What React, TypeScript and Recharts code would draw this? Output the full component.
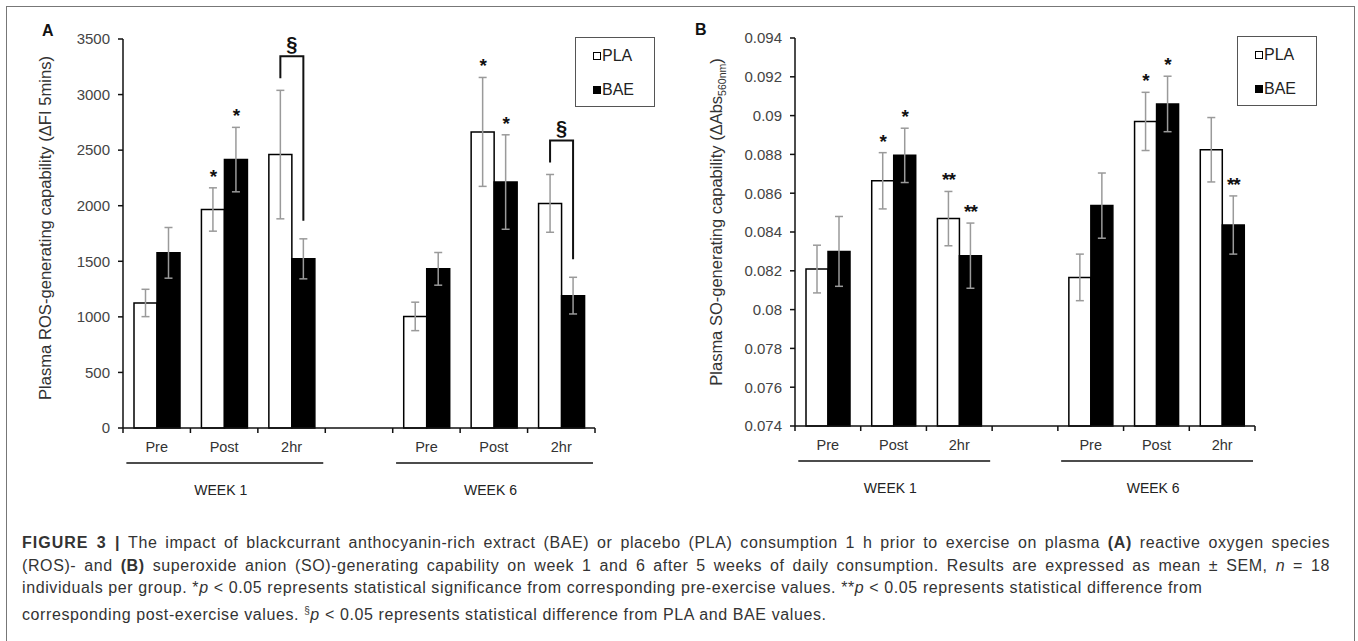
import { BarChart, Bar, XAxis, YAxis, ErrorBar, LabelList, Legend } from 'recharts';

const FONT = '"Liberation Sans", Arial, sans-serif';

// seven slots on the x axis, the fourth one is the gap between weeks
const categories = ['Pre', 'Post', '2hr', '', 'Pre', 'Post', '2hr'];
const weekLabels = ['WEEK 1', 'WEEK 6'];

// panel A - plasma ROS-generating capability
const rosPla = [1125, 1966, 2460, null, 1004, 2664, 2021];
const rosPlaErr = [123, 195, 578, null, 128, 490, 260];
const rosBae = [1576, 2415, 1522, null, 1432, 2213, 1191];
const rosBaeErr = [228, 290, 180, null, 147, 425, 165];
const rosPlaMarks = ['', '*', '', '', '', '*', ''];
const rosBaeMarks = ['', '*', '§', '', '', '*', '§'];
const rosTicks = [0, 500, 1000, 1500, 2000, 2500, 3000, 3500];

// panel B - plasma SO-generating capability
const soPla = [0.08209, 0.08664, 0.08469, null, 0.08166, 0.0897, 0.08824];
const soPlaErr = [0.00123, 0.00145, 0.0014, null, 0.0012, 0.0015, 0.00166];
const soBae = [0.083, 0.08795, 0.08278, null, 0.08536, 0.0906, 0.08436];
const soBaeErr = [0.0018, 0.0014, 0.00168, null, 0.00168, 0.00143, 0.0015];
const soPlaMarks = ['', '*', '**', '', '', '*', ''];
const soBaeMarks = ['', '*', '**', '', '', '*', '**'];
const soTicks = [0.074, 0.076, 0.078, 0.08, 0.082, 0.084, 0.086, 0.088, 0.09, 0.092, 0.094];

function buildRows(pla: (number | null)[], plaErr: (number | null)[], bae: (number | null)[], baeErr: (number | null)[]) {
  return categories.map((c, i) => ({
    slot: i,
    cat: c,
    pla: pla[i],
    plaErr: plaErr[i],
    bae: bae[i],
    baeErr: baeErr[i],
  }));
}

// x tick: label in the middle of the slot, tick marks on the slot edges,
// and the week underline + label below the first slot of each week
function makeSlotTick(unit: number) {
  return function SlotTick(props: any) {
    const { x, y, payload } = props;
    const i = Number(payload.value);
    const left = x - unit / 2;
    const wk = i === 0 ? 0 : i === 4 ? 1 : -1;
    return (
      <g>
        <line x1={left} x2={left} y1={y} y2={y + 5} stroke="#111" strokeWidth={1.5} />
        {i === categories.length - 1 && (
          <line x1={x + unit / 2} x2={x + unit / 2} y1={y} y2={y + 5} stroke="#111" strokeWidth={1.5} />
        )}
        <text x={x} y={y + 24} textAnchor="middle" fontSize={14.5} fill="#333" fontFamily={FONT}>
          {categories[i]}
        </text>
        {wk >= 0 && (
          <g>
            <line x1={left + 0.05 * unit} x2={left + 2.97 * unit} y1={y + 35} y2={y + 35} stroke="#111" strokeWidth={1.5} />
            <text x={left + 1.45 * unit} y={y + 67} textAnchor="middle" fontSize={14} fill="#222" fontFamily={FONT}>
              {weekLabels[wk]}
            </text>
          </g>
        )}
      </g>
    );
  };
}

function makeMarks(marks: string[], vals: (number | null)[], errs: (number | null)[], base: number, other?: { vals: (number | null)[]; errs: (number | null)[] }) {
  return function Marks(props: any) {
    const vb = props.viewBox ?? props;
    const i = Number(props.value);
    const m = marks[i];
    const v = vals[i];
    if (!m || v == null) return null;
    const x = Number(vb.x);
    const w = Number(vb.width);
    const h = Math.abs(Number(vb.height));
    const top = Number(vb.y);
    const per = h / (v - base);
    const errTop = top - (errs[i] ?? 0) * per;
    const cx = x + w / 2;
    if (m === '§' && other) {
      const baseY = top + h;
      const leftX = cx - w;
      const leftTop = baseY - ((other.vals[i] ?? 0) + (other.errs[i] ?? 0) - base) * per;
      const armL = leftTop - 12;
      const barY = armL - 22;
      const armR = errTop - 18;
      return (
        <g>
          <path d={`M${leftX},${armL} L${leftX},${barY} L${cx},${barY} L${cx},${armR}`} fill="none" stroke="#111" strokeWidth={2} />
          <text x={(leftX + cx) / 2} y={barY - 5} textAnchor="middle" fontSize={20} fontWeight="bold" fill="#111" fontFamily={FONT}>
            §
          </text>
        </g>
      );
    }
    return (
      <text x={cx} y={errTop - 5} textAnchor="middle" fontSize={19} fontWeight="bold" fill="#111" fontFamily={FONT} letterSpacing={-1}>
        {m}
      </text>
    );
  };
}

function LegendBox(props: any) {
  const items = [...(props.payload ?? [])].sort((a: any, b: any) => (a.value === 'PLA' ? -1 : b.value === 'PLA' ? 1 : 0));
  return (
    <div
      style={{
        width: '100%',
        height: '100%',
        boxSizing: 'border-box',
        border: '1.5px solid #555',
        background: '#fff',
        fontFamily: FONT,
        fontSize: 16,
        color: '#222',
        paddingTop: 1,
      }}
    >
      {items.map((it: any) => {
        const filled = it.value === 'BAE';
        return (
          <div key={it.value} style={{ height: 34, display: 'flex', alignItems: 'center', paddingLeft: 17 }}>
            <span
              style={{
                display: 'inline-block',
                width: 8,
                height: 8,
                boxSizing: 'border-box',
                border: '1.5px solid #000',
                background: filled ? '#000' : '#fff',
                marginRight: 1,
              }}
            />
            <span>{it.value}</span>
          </div>
        );
      })}
    </div>
  );
}

interface PanelProps {
  rows: ReturnType<typeof buildRows>;
  width: number;
  height: number;
  margin: { top: number; right: number; bottom: number; left: number };
  domain: [number, number];
  ticks: number[];
  tickFmt: (v: number) => string;
  barSize: number;
  yLabel: React.ReactNode;
  yLabelSize: number;
  yLabelX: number;
  yLabelY: number;
  legendLeft: number;
  legendTop: number;
  plaMarks: string[];
  baeMarks: string[];
  pla: (number | null)[];
  plaErr: (number | null)[];
  bae: (number | null)[];
  baeErr: (number | null)[];
}

const Y_AXIS_W = 60;

function Panel(p: PanelProps) {
  const plotW = p.width - p.margin.left - p.margin.right - Y_AXIS_W;
  const unit = plotW / categories.length;
  const base = p.domain[0];
  return (
    <BarChart width={p.width} height={p.height} data={p.rows} margin={p.margin} barGap={0} barSize={p.barSize}>
      <XAxis
        dataKey="slot"
        interval={0}
        height={80}
        tickLine={false}
        tickSize={0}
        tickMargin={0}
        axisLine={{ stroke: '#111', strokeWidth: 1.5 }}
        tick={makeSlotTick(unit)}
      />
      <YAxis
        width={Y_AXIS_W}
        domain={p.domain}
        ticks={p.ticks}
        interval={0}
        tickFormatter={p.tickFmt}
        tickSize={5}
        tickMargin={8}
        axisLine={{ stroke: '#111', strokeWidth: 1.5 }}
        tickLine={{ stroke: '#111', strokeWidth: 1.5 }}
        tick={{ fontSize: 15, fill: '#444', fontFamily: FONT }}
        label={{
          content: () => (
            <text
              transform={`translate(${p.yLabelX},${p.yLabelY}) rotate(-90)`}
              textAnchor="middle"
              fontSize={p.yLabelSize}
              fill="#333"
              fontFamily={FONT}
            >
              {p.yLabel}
            </text>
          ),
        }}
      />
      <Legend
        layout="vertical"
        verticalAlign="middle"
        align="center"
        wrapperStyle={{ left: p.legendLeft, top: p.legendTop, width: 80, height: 70 }}
        content={LegendBox}
      />
      <Bar dataKey="pla" name="PLA" fill="#fff" stroke="#000" strokeWidth={1.5} isAnimationActive={false}>
        <ErrorBar dataKey="plaErr" width={4} stroke="#9a9a9a" strokeWidth={1.5} />
        <LabelList dataKey="slot" content={makeMarks(p.plaMarks, p.pla, p.plaErr, base)} />
      </Bar>
      <Bar dataKey="bae" name="BAE" fill="#000" stroke="#000" strokeWidth={1.5} isAnimationActive={false}>
        <ErrorBar dataKey="baeErr" width={4} stroke="#9a9a9a" strokeWidth={1.5} />
        <LabelList
          dataKey="slot"
          content={makeMarks(p.baeMarks, p.bae, p.baeErr, base, { vals: p.pla, errs: p.plaErr })}
        />
      </Bar>
    </BarChart>
  );
}

export default function App() {
  const rosRows = buildRows(rosPla, rosPlaErr, rosBae, rosBaeErr);
  const soRows = buildRows(soPla, soPlaErr, soBae, soBaeErr);
  // first two caption lines run to the right edge, the rest are ragged
  const full = { width: 1308, textAlign: 'justify' as const, textAlignLast: 'justify' as const };
  return (
    <div style={{ position: 'absolute', left: 0, top: 0, width: 1358, height: 641, background: '#fff', overflow: 'hidden', fontFamily: FONT }}>
      <div
        style={{
          position: 'absolute',
          left: 6,
          top: 6,
          width: 1349,
          height: 700,
          boxSizing: 'border-box',
          border: '1.5px solid #777',
        }}
      />
      <div style={{ position: 'absolute', left: 0, top: 0 }}>
        <Panel
          rows={rosRows}
          width={680}
          height={520}
          margin={{ top: 39, right: 85, bottom: 12, left: 63 }}
          domain={[0, 3500]}
          ticks={rosTicks}
          tickFmt={(v) => String(v)}
          barSize={23}
          yLabel="Plasma ROS-generating capability (ΔFI 5mins)"
          yLabelSize={16.6}
          yLabelX={51}
          yLabelY={228}
          legendLeft={575}
          legendTop={37}
          plaMarks={rosPlaMarks}
          baeMarks={rosBaeMarks}
          pla={rosPla}
          plaErr={rosPlaErr}
          bae={rosBae}
          baeErr={rosBaeErr}
        />
      </div>
      <div style={{ position: 'absolute', left: 680, top: 0 }}>
        <Panel
          rows={soRows}
          width={678}
          height={520}
          margin={{ top: 38, right: 103, bottom: 14, left: 55 }}
          domain={[0.074, 0.094]}
          ticks={soTicks}
          tickFmt={(v) => String(+Number(v).toFixed(3))}
          barSize={22}
          yLabel={
            <>
              Plasma SO-generating capability (ΔAbs
              <tspan fontSize={10.5} dy={4}>560nm</tspan>
              <tspan dy={-4}>)</tspan>
            </>
          }
          yLabelSize={16.5}
          yLabelX={42}
          yLabelY={222}
          legendLeft={557}
          legendTop={36}
          plaMarks={soPlaMarks}
          baeMarks={soBaeMarks}
          pla={soPla}
          plaErr={soPlaErr}
          bae={soBae}
          baeErr={soBaeErr}
        />
      </div>
      <div style={{ position: 'absolute', left: 42, top: 22, fontSize: 16, fontWeight: 'bold', color: '#111' }}>A</div>
      <div style={{ position: 'absolute', left: 695, top: 21, fontSize: 16, fontWeight: 'bold', color: '#111' }}>B</div>
      <div
        style={{
          position: 'absolute',
          left: 22,
          top: 532,
          fontSize: 16,
          lineHeight: '22.6px',
          letterSpacing: '0.6px',
          color: '#333',
          whiteSpace: 'nowrap',
        }}
      >
        <div style={full}>
          <b style={{ letterSpacing: '1px' }}>FIGURE 3 |</b> The impact of blackcurrant anthocyanin-rich extract (BAE) or placebo (PLA) consumption 1 h prior to exercise on plasma <b>(A)</b> reactive oxygen species
        </div>
        <div style={full}>
          (ROS)- and <b>(B)</b> superoxide anion (SO)-generating capability on week 1 and 6 after 5 weeks of daily consumption. Results are expressed as mean ± SEM, <i>n</i> = 18
        </div>
        <div>
          individuals per group. *<i>p</i> &lt; 0.05 represents statistical significance from corresponding pre-exercise values. **<i>p</i> &lt; 0.05 represents statistical difference from
        </div>
        <div>
          corresponding post-exercise values. <sup style={{ fontSize: 10 }}>§</sup>
          <i>p</i> &lt; 0.05 represents statistical difference from PLA and BAE values.
        </div>
      </div>
    </div>
  );
}
